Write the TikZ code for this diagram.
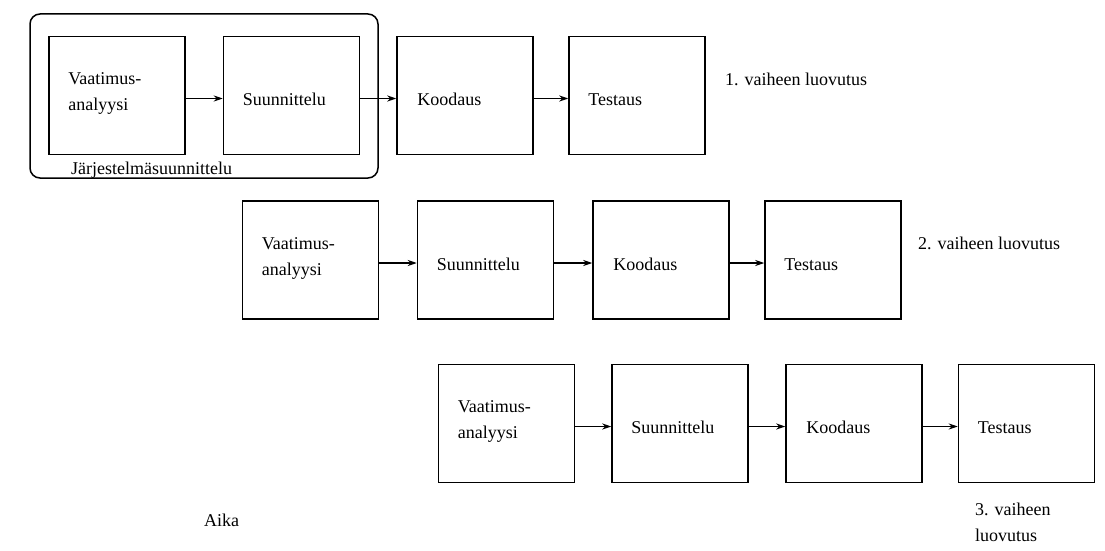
\documentclass[tikz,border=0pt]{standalone}
\usepackage{fontspec}
\setmainfont{Liberation Serif}
\usetikzlibrary{arrows.meta}
\begin{document}
\begin{tikzpicture}[x=1pt,y=-1pt,
  stage/.style={draw,line width=1.5pt,minimum width=136pt,minimum height=118pt,inner sep=0pt},
  lbl/.style={anchor=base west,inner sep=0pt,align=left,font=\fontsize{18}{26}\selectfont},
  flow/.style={line width=1.4pt,-{Stealth[length=9pt,width=6pt]}},
  group/.style={draw,line width=1.5pt,rounded corners=10pt}]
\useasboundingbox (0,0) rectangle (1105,551);

% phase 1
\node[stage] (a1) at (117,95.5) {};
\node[stage] (b1) at (291.5,95.5) {};
\node[stage] (c1) at (465,95.5) {};
\node[stage] (d1) at (637,95.5) {};
% phase 2
\node[stage] (a2) at (310.5,260) {};
\node[stage] (b2) at (485.5,260) {};
\node[stage] (c2) at (661,260) {};
\node[stage] (d2) at (833,260) {};
% phase 3
\node[stage] (a3) at (506.5,423.5) {};
\node[stage] (b3) at (680,423.5) {};
\node[stage] (c3) at (854,423.5) {};
\node[stage] (d3) at (1026.5,423.5) {};

% system design grouping around the first two stages
\draw[group] (30,14) rectangle (378,178);
\node[lbl] (grp) at (71,174) {Järjestelmäsuunnittelu};

% stage labels (two-line labels sit on the baseline of their last line)
\foreach \r in {1,2,3}{
  \node[lbl] (ta\r) at ([shift={(20pt,-75pt)}]a\r.north west) {Vaatimus-\\analyysi};
  \node[lbl] (tb\r) at ([shift={(20pt,-70pt)}]b\r.north west) {Suunnittelu};
  \node[lbl] (tc\r) at ([shift={(21pt,-70pt)}]c\r.north west) {Koodaus};
  \node[lbl] (td\r) at ([shift={(20pt,-70pt)}]d\r.north west) {Testaus};
  \draw[flow] ([yshift=-3pt]a\r.east) -- ([yshift=-3pt]b\r.west);
  \draw[flow] ([yshift=-3pt]b\r.east) -- ([yshift=-3pt]c\r.west);
  \draw[flow] ([yshift=-3pt]c\r.east) -- ([yshift=-3pt]d\r.west);
}

% deliveries
\node[lbl] (del1) at (725,85) {1. vaiheen luovutus};
\node[lbl] (del2) at (918,249) {2. vaiheen luovutus};
\node[lbl] (del3) at (975,541) {3. vaiheen\\luovutus};

% time
\node[lbl] (time) at (204,526) {Aika};
\end{tikzpicture}
\end{document}
